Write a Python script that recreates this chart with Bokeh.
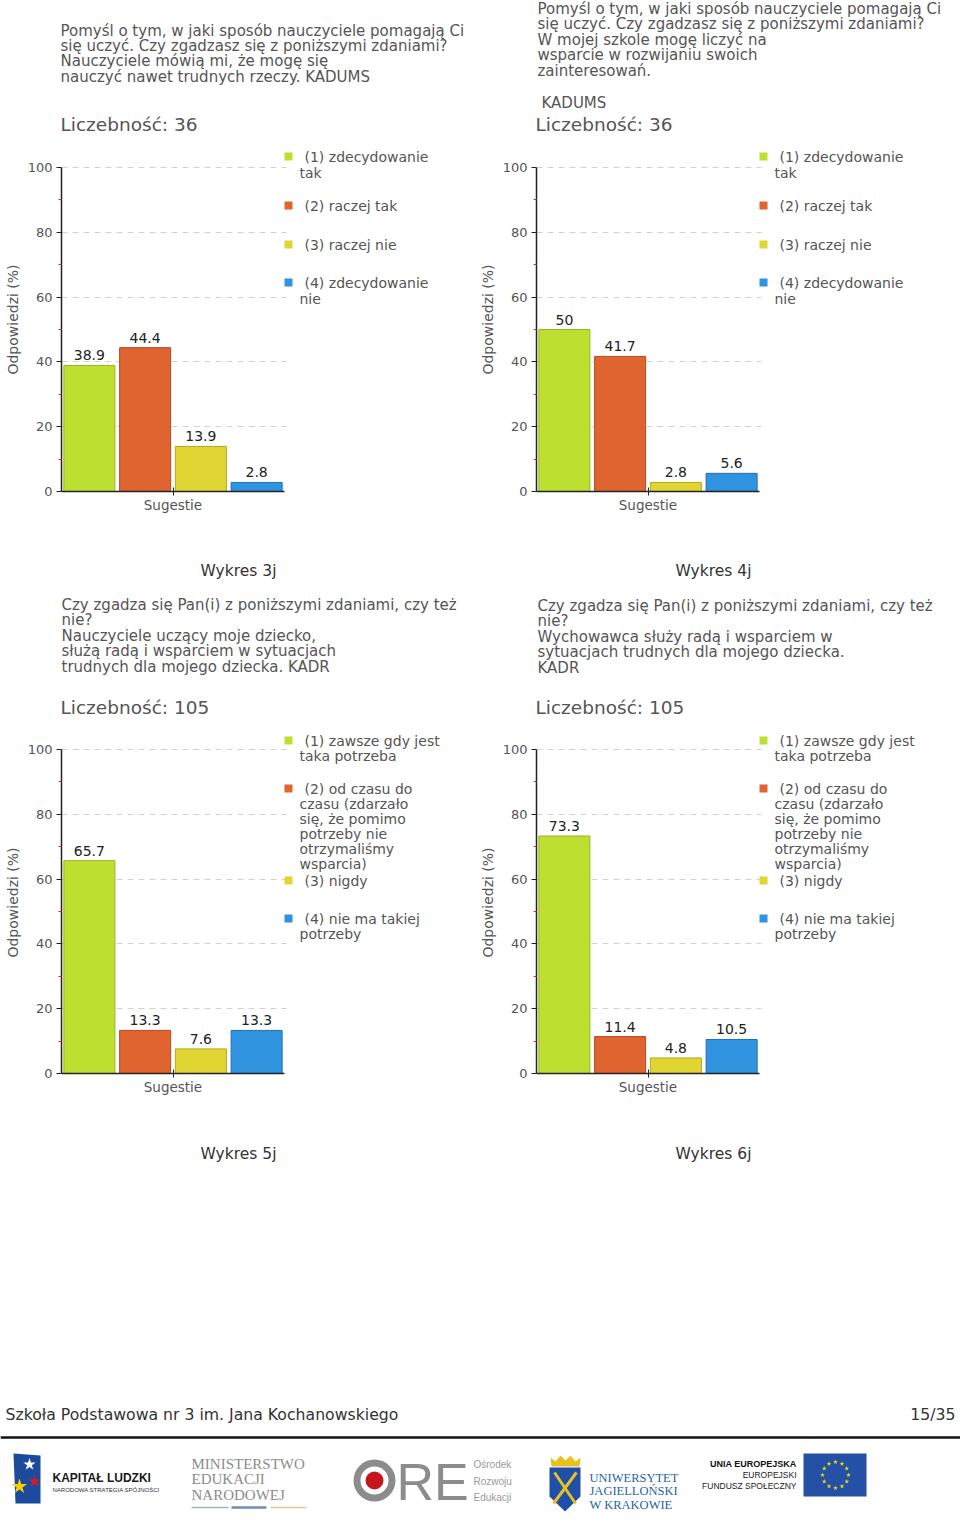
import math
from bokeh.plotting import figure
from bokeh.models import (ColumnDataSource, Range1d, FixedTicker, Span, Label, BoxAnnotation)
from bokeh.layouts import column, row
from bokeh.embed import file_html
from bokeh.resources import INLINE
from bokeh.core.properties import value

FONT = "DejaVu Sans"

# ---------------- data ----------------
category = "Sugestie"
series_fill = ["#bde030", "#e0642f", "#e0d532", "#2f93e0"]
series_line = ["#98b321", "#b54a1e", "#b3a91e", "#1f6fb3"]

scale_a = ["(1) zdecydowanie\ntak", "(2) raczej tak", "(3) raczej nie", "(4) zdecydowanie\nnie"]
scale_b = ["(1) zawsze gdy jest\ntaka potrzeba",
           "(2) od czasu do\nczasu (zdarzało\nsię, że pomimo\npotrzeby nie\notrzymaliśmy\nwsparcia)",
           "(3) nigdy", "(4) nie ma takiej\npotrzeby"]

w3_values = [38.9, 44.4, 13.9, 2.8]
w4_values = [50, 41.7, 2.8, 5.6]
w5_values = [65.7, 13.3, 7.6, 13.3]
w6_values = [73.3, 11.4, 4.8, 10.5]

w3_n, w4_n, w5_n, w6_n = 36, 36, 105, 105

w3_title = ["Pomyśl o tym, w jaki sposób nauczyciele pomagają Ci",
            "się uczyć. Czy zgadzasz się z poniższymi zdaniami?",
            "Nauczyciele mówią mi, że mogę się",
            "nauczyć nawet trudnych rzeczy. KADUMS"]
w4_title = ["Pomyśl o tym, w jaki sposób nauczyciele pomagają Ci",
            "się uczyć. Czy zgadzasz się z poniższymi zdaniami?",
            "W  mojej szkole mogę liczyć na",
            "wsparcie w rozwijaniu swoich",
            "zainteresowań."]
w4_extra = "KADUMS"
w5_title = ["Czy zgadza się Pan(i) z poniższymi zdaniami, czy też",
            "nie?",
            "Nauczyciele uczący moje dziecko,",
            "służą radą i wsparciem w sytuacjach",
            "trudnych dla mojego dziecka. KADR"]
w6_title = ["Czy zgadza się Pan(i) z poniższymi zdaniami, czy też",
            "nie?",
            "Wychowawca służy radą i wsparciem w",
            "sytuacjach trudnych dla mojego dziecka.",
            "KADR"]

captions = ["Wykres 3j", "Wykres 4j", "Wykres 5j", "Wykres 6j"]
y_ticks = [0, 20, 40, 60, 80, 100]
y_minor = [10, 30, 50, 70, 90]
footer_left = "Szkoła Podstawowa nr 3 im. Jana Kochanowskiego"
footer_right = "15/35"

TITLE_PX = 15
LEG_PX = 14


def fmt(v):
    return f"{v:g}"


def band(x0, x1, y0, y1):
    """A plain figure whose frame is the whole canvas, in page pixels (y down)."""
    b = figure(width=x1 - x0, height=y1 - y0, x_range=Range1d(x0, x1), y_range=Range1d(y1, y0),
               x_axis_type=None, y_axis_type=None, output_backend="svg",
               toolbar_location=None, tools="", min_border=0)
    b.outline_line_color = None
    b.grid.visible = False
    return b


def txt(b, x, y, t, size=TITLE_PX, color="#555555", font=FONT, style="normal", align="left"):
    b.text(x=[x], y=[y], text=[t], text_font=value(font), text_font_size=f"{size}px",
           text_color=color, text_font_style=style, text_align=align, text_baseline="middle")


def chart(values, legend, legend_y, legend_lh, x0, x1, y0, y1, FL, FT, FR, FB):
    """Bar chart; frame spans page x FL..x1 and y y0..FB; the bars use FL..FR, 100 % at FT."""
    n = len(values)
    p = figure(width=x1 - x0, height=y1 - y0,
               x_range=Range1d(0, n * (x1 - FL) / (FR - FL)),
               y_range=Range1d(0, 100 * (FB - y0) / (FB - FT)),
               output_backend="svg", toolbar_location=None, tools="",
               min_border_left=FL - x0, min_border_right=0,
               min_border_top=0, min_border_bottom=y1 - FB)
    p.outline_line_color = None
    p.xgrid.visible = False
    p.ygrid.ticker = FixedTicker(ticks=y_ticks[1:])
    p.ygrid.grid_line_color = "#d2d2d2"
    p.ygrid.grid_line_dash = "6 5"
    p.ygrid.grid_line_width = 1

    ya = p.yaxis[0]
    ya.ticker = FixedTicker(ticks=y_ticks, minor_ticks=y_minor)
    ya.bounds = (y_ticks[0], y_ticks[-1])
    ya.axis_label = "Odpowiedzi (%)"
    ya.axis_label_text_font = FONT
    ya.axis_label_text_font_size = "14px"
    ya.axis_label_text_font_style = "normal"
    ya.axis_label_text_color = "#555555"
    ya.axis_label_standoff = 4
    ya.major_label_text_font = FONT
    ya.major_label_text_font_size = "13px"
    ya.major_label_text_color = "#555555"
    ya.major_label_standoff = 4
    ya.axis_line_color = "#222222"
    ya.axis_line_width = 1.5
    ya.major_tick_line_color = "#222222"
    ya.major_tick_in = 0
    ya.major_tick_out = 5
    ya.minor_tick_line_color = "#cc3333"
    ya.minor_tick_in = 0
    ya.minor_tick_out = 3

    xa = p.xaxis[0]
    xa.ticker = FixedTicker(ticks=[n / 2])
    xa.major_label_overrides = {n / 2: category}
    xa.bounds = (0, n)
    xa.major_label_text_font = FONT
    xa.major_label_text_font_size = "13.5px"
    xa.major_label_text_color = "#555555"
    xa.major_label_standoff = 1
    xa.axis_line_color = "#222222"
    xa.axis_line_width = 1.5
    xa.major_tick_line_color = "#222222"
    xa.major_tick_in = 4
    xa.major_tick_out = 4

    # keep the dashed grid to the bar area (legend area is blank)
    p.add_layout(BoxAnnotation(left=n + 0.036, fill_color="white", fill_alpha=1,
                               line_color=None, level="underlay"))

    src = ColumnDataSource(dict(x=[i + 0.5 for i in range(n)], top=values,
                                lab=[fmt(v) for v in values],
                                fill=series_fill[:n], line=series_line[:n]))
    p.vbar(x="x", top="top", bottom=0, width=0.915, source=src,
           fill_color="fill", line_color="line", line_width=1)
    p.text(x="x", y="top", text="lab", source=src, text_align="center", text_baseline="middle",
           y_offset=-10, text_font=value(FONT), text_font_size="14px", text_color="#222222")

    def lab(x, y, text):
        p.add_layout(Label(x=x - FL, y=FB - y, x_units="screen", y_units="screen", text=text,
                           text_font=FONT, text_font_size=f"{LEG_PX}px", text_color="#555555",
                           text_align="left", text_baseline="middle"))

    for i, item in enumerate(legend):
        yy = legend_y[i]
        p.add_layout(BoxAnnotation(left=FR - FL, right=FR + 8 - FL, top=FB - (yy - 4),
                                   bottom=FB - (yy + 4), left_units="screen", right_units="screen",
                                   top_units="screen", bottom_units="screen",
                                   fill_color=series_fill[i], fill_alpha=1, line_color=None))
        for k, line in enumerate(item.split("\n")):
            lab(FR + (20 if k == 0 else 15), yy + k * legend_lh, line)
    return p


def title_band(y0, y1, blocks):
    b = band(0, 960, y0, y1)
    for (lines, x, yf, lh) in blocks:
        for k, line in enumerate(lines):
            txt(b, x, yf + k * lh, line)
    return b


# ---------------- row 1 ----------------
t1 = title_band(0, 147, [(w3_title, 60, 30, 15.4), (w4_title, 537, 8, 15.5)])
txt(t1, 541, 102, w4_extra)
txt(t1, 60, 124, f"Liczebność: {w3_n}", size=18.5)
txt(t1, 535, 124, f"Liczebność: {w4_n}", size=18.5)

c1 = chart(w3_values, scale_a, [156, 205, 244, 282], 16, 0, 476, 147, 520, 61, 167, 284, 491)
c2 = chart(w4_values, scale_a, [156, 205, 244, 282], 16, 476, 960, 147, 520, 536, 167, 759, 491)

k1 = band(0, 960, 520, 583)
txt(k1, 238, 570, captions[0], size=15.5, color="#333333", align="center")
txt(k1, 713, 570, captions[1], size=15.5, color="#333333", align="center")

# ---------------- row 2 ----------------
t2 = title_band(583, 731, [(w5_title, 61, 604, 15.5), (w6_title, 537, 605, 15.5)])
txt(t2, 60, 707, f"Liczebność: {w5_n}", size=18.5)
txt(t2, 535, 707, f"Liczebność: {w6_n}", size=18.5)

c3 = chart(w5_values, scale_b, [740, 788, 880, 918], 15, 0, 476, 731, 1102, 61, 749, 284, 1073)
c4 = chart(w6_values, scale_b, [740, 788, 880, 918], 15, 476, 960, 731, 1102, 536, 749, 759, 1073)

k2 = band(0, 960, 1102, 1175)
txt(k2, 238, 1153, captions[2], size=15.5, color="#333333", align="center")
txt(k2, 713, 1153, captions[3], size=15.5, color="#333333", align="center")

# ---------------- footer ----------------
f = band(0, 960, 1175, 1524)
txt(f, 5, 1414, footer_left, 15.7, "#333333")
txt(f, 955, 1414, footer_right, 15.7, "#333333", align="right")
f.add_layout(Span(location=1437, dimension="width", line_color="#111111", line_width=2.5))

# Kapitał Ludzki
f.patch(x=[13, 40, 40, 15], y=[1453, 1455, 1503, 1503], fill_color="#1c4a9c", line_color=None)
f.scatter(x=[29], y=[1464], marker="star", size=13, fill_color="white", line_color=None)
f.scatter(x=[34], y=[1481], marker="star", size=13, fill_color="#d01c2a", line_color=None)
f.scatter(x=[19], y=[1486], marker="star", size=16, fill_color="#f5d000", line_color=None)
txt(f, 52, 1477, "KAPITAŁ LUDZKI", 12, "#1a1a1a", "Liberation Sans", "bold")
txt(f, 52, 1489, "NARODOWA STRATEGIA SPÓJNOŚCI", 6, "#333333", "Liberation Sans")

# MEN
for k, t in enumerate(["MINISTERSTWO", "EDUKACJI", "NARODOWEJ"]):
    txt(f, 191, 1463 + k * 15.5, t, 15, "#8c8c8c", "Liberation Serif")
f.segment(x0=[191, 270], y0=[1507, 1507], x1=[228, 306], y1=[1507, 1507],
          line_color=["#9fb2c6", "#e6c49a"], line_width=1.5)
f.segment(x0=[231], y0=[1507], x1=[266], y1=[1507], line_color="#6f8fb5", line_width=2.5)

# ORE
f.annulus(x=[374], y=[1480], inner_radius=14, outer_radius=21, fill_color="#8c8c8c", line_color=None)
f.circle(x=[374], y=[1480], radius=9, fill_color="#c4161c", line_color=None)
txt(f, 396, 1481, "RE", 52, "#8c8c8c", "Liberation Sans")
for k, t in enumerate(["Ośrodek", "Rozwoju", "Edukacji"]):
    txt(f, 473, 1464 + k * 16.5, t, 10, "#9a9a9a", "Liberation Sans")

# UJ
f.patch(x=[549, 580, 580, 564.5, 549], y=[1467, 1467, 1496, 1511, 1496],
        fill_color="#1f4fa8", line_color=None)
f.patch(x=[550, 555, 560, 565, 570, 575, 580, 579, 551],
        y=[1457, 1461, 1455, 1460, 1455, 1461, 1457, 1466, 1466],
        fill_color="#e8c020", line_color=None)
f.segment(x0=[554, 576], y0=[1472, 1472], x1=[575, 553], y1=[1503, 1503],
          line_color="#e8c020", line_width=3)
for k, t in enumerate(["UNIWERSYTET", "JAGIELLOŃSKI", "W KRAKOWIE"]):
    txt(f, 589, 1477 + k * 13.5, t, 12.5, "#2a5fa8", "Liberation Serif")

# EU
txt(f, 796, 1463, "UNIA EUROPEJSKA", 9, "#111111", "Liberation Sans", "bold", "right")
txt(f, 796, 1474, "EUROPEJSKI", 8.5, "#222222", "Liberation Sans", "normal", "right")
txt(f, 796, 1485, "FUNDUSZ SPOŁECZNY", 8.5, "#222222", "Liberation Sans", "normal", "right")
f.quad(left=[803], right=[866], top=[1453], bottom=[1496], fill_color="#2450a6", line_color=None)
star_x = [835 + 13 * math.cos(2 * math.pi * k / 12) for k in range(12)]
star_y = [1474.5 + 13 * math.sin(2 * math.pi * k / 12) for k in range(12)]
f.scatter(x=star_x, y=star_y, marker="star", size=5, fill_color="#f5e000", line_color=None)

page = column(t1, row(c1, c2), k1, t2, row(c3, c4), k2, f)
open("out.html", "w").write(file_html(page, INLINE))
